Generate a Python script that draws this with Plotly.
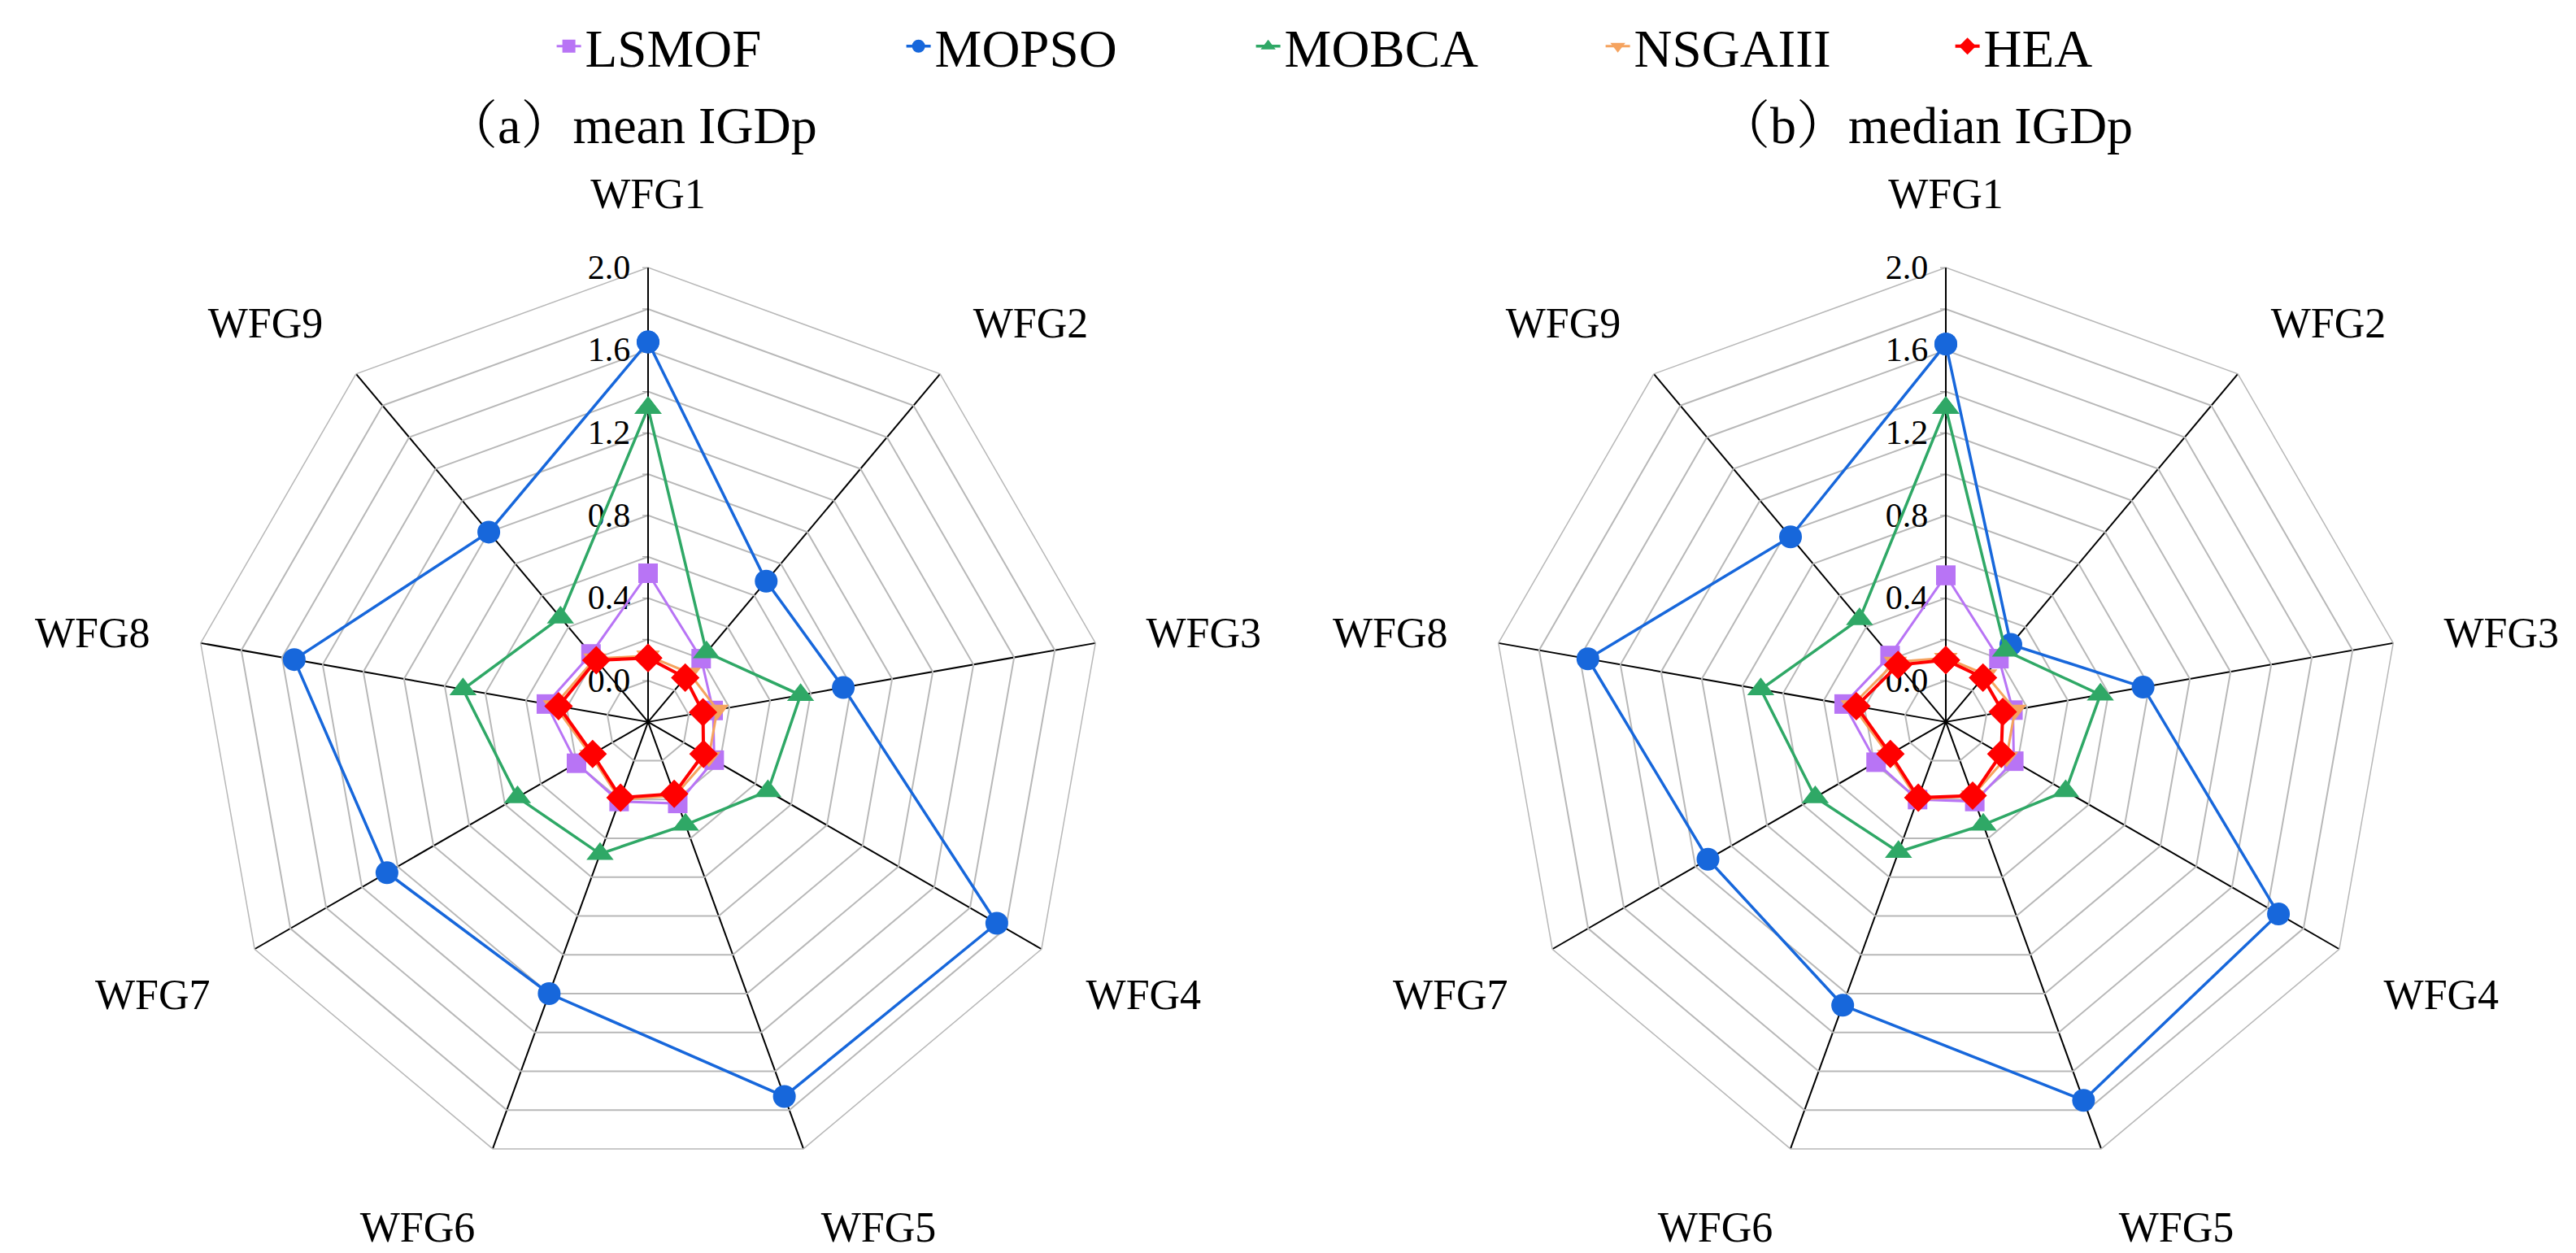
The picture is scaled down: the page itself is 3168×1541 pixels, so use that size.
import plotly.graph_objects as go

categories = ['WFG1', 'WFG2', 'WFG3', 'WFG4', 'WFG5', 'WFG6', 'WFG7', 'WFG8', 'WFG9']
algorithms = ['LSMOF', 'MOPSO', 'MOBCA', 'NSGAIII', 'HEA']

# (a) mean IGDp
mean_LSMOF = [0.52, 0.20, 0.12, 0.17, 0.22, 0.21, 0.20, 0.30, 0.23]
mean_MOPSO = [1.64, 0.69, 0.76, 1.75, 1.73, 1.20, 1.26, 1.54, 1.00]
mean_MOBCA = [1.32, 0.24, 0.55, 0.47, 0.33, 0.48, 0.53, 0.71, 0.46]
mean_NSGAIII = [0.12, 0.11, 0.14, 0.14, 0.18, 0.20, 0.12, 0.26, 0.20]
mean_HEA = [0.11, 0.08, 0.07, 0.11, 0.17, 0.19, 0.11, 0.24, 0.19]

# (b) median IGDp
median_LSMOF = [0.51, 0.20, 0.13, 0.18, 0.21, 0.20, 0.19, 0.30, 0.22]
median_MOPSO = [1.63, 0.29, 0.77, 1.66, 1.75, 1.26, 1.13, 1.56, 0.97]
median_MOBCA = [1.32, 0.25, 0.56, 0.47, 0.33, 0.47, 0.53, 0.71, 0.45]
median_NSGAIII = [0.11, 0.10, 0.14, 0.14, 0.18, 0.20, 0.12, 0.26, 0.18]
median_HEA = [0.10, 0.08, 0.08, 0.11, 0.18, 0.19, 0.11, 0.24, 0.16]

radial_tickvals = [0.0, 0.2, 0.4, 0.6, 0.8, 1.0, 1.2, 1.4, 1.6, 1.8, 2.0]
radial_ticktext = ['0.0', '', '0.4', '', '0.8', '', '1.2', '', '1.6', '', '2.0']
radial_range = [-0.2, 2.0]

titles = ['（a）mean IGDp', '（b）median IGDp']

colors = {'LSMOF': '#B874F5', 'MOPSO': '#1767DB', 'MOBCA': '#2FA866',
          'NSGAIII': '#F5A35F', 'HEA': '#FF0000'}
symbols = {'LSMOF': 'square', 'MOPSO': 'circle', 'MOBCA': 'triangle-up',
           'NSGAIII': 'triangle-down', 'HEA': 'diamond'}
msizes = {'LSMOF': 24, 'MOPSO': 28, 'MOBCA': 29, 'NSGAIII': 25, 'HEA': 27}
lwidths = {'LSMOF': 3, 'MOPSO': 3.5, 'MOBCA': 3.5, 'NSGAIII': 3, 'HEA': 4}

SERIF = 'Times New Roman, Liberation Serif, serif'
TITLEFONT = 'Times New Roman, Liberation Serif, Noto Serif CJK SC, Noto Sans CJK SC, serif'

panels = [
    ('polar', {'LSMOF': mean_LSMOF, 'MOPSO': mean_MOPSO, 'MOBCA': mean_MOBCA,
               'NSGAIII': mean_NSGAIII, 'HEA': mean_HEA}),
    ('polar2', {'LSMOF': median_LSMOF, 'MOPSO': median_MOPSO, 'MOBCA': median_MOBCA,
                'NSGAIII': median_NSGAIII, 'HEA': median_HEA}),
]

fig = go.Figure()
for pi, (sub, data) in enumerate(panels):
    for alg in algorithms:
        vals = data[alg]
        fig.add_trace(go.Scatterpolar(
            r=vals + [vals[0]],
            theta=categories + [categories[0]],
            mode='lines+markers',
            name=alg,
            subplot=sub,
            showlegend=(pi == 0),
            cliponaxis=True,
            line=dict(color=colors[alg], width=lwidths[alg]),
            marker=dict(symbol=symbols[alg], size=msizes[alg], color=colors[alg]),
        ))

W, H = 3168, 1541
R = 562
centers = [(789, 876), (2385, 876)]


def domain(cx, cy):
    return dict(x=[(cx - R) / W, (cx + R) / W],
                y=[(H - cy - R) / H, (H - cy + R) / H])


def polar_layout(cx, cy):
    return dict(
        domain=domain(cx, cy),
        bgcolor='white',
        gridshape='linear',
        radialaxis=dict(
            range=radial_range,
            angle=90,
            tickangle=90,
            side='counterclockwise',
            tickvals=radial_tickvals,
            ticktext=radial_ticktext,
            tickfont=dict(family=SERIF, size=42, color='black'),
            ticks='outside', ticklen=6, tickcolor='#999999',
            showline=True, linecolor='black', linewidth=2,
            gridcolor='#b8b8b8', gridwidth=1.5,
            layer='below traces',
        ),
        angularaxis=dict(
            type='category',
            categoryarray=categories,
            rotation=90,
            direction='clockwise',
            tickfont=dict(family=SERIF, size=52, color='black'),
            ticks='outside', ticklen=52, tickcolor='rgba(0,0,0,0)',
            showline=True, linecolor='#b8b8b8', linewidth=1.5,
            gridcolor='black', gridwidth=1.5,
            layer='below traces',
        ),
    )


fig.update_layout(
    width=W, height=H,
    paper_bgcolor='white',
    margin=dict(l=0, r=0, t=0, b=0),
    polar=polar_layout(*centers[0]),
    polar2=polar_layout(*centers[1]),
    legend=dict(
        orientation='h',
        x=0.212, xanchor='left',
        y=1 - 40 / H, yanchor='middle',
        font=dict(family=SERIF, size=65, color='black'),
        entrywidth=385, entrywidthmode='pixels',
        bgcolor='rgba(0,0,0,0)',
    ),
    annotations=[
        dict(text=titles[0], x=768 / W, y=1 - 138 / H, xref='paper', yref='paper',
             xanchor='center', yanchor='middle', showarrow=False,
             font=dict(family=TITLEFONT, size=64, color='black')),
        dict(text=titles[1], x=2360 / W, y=1 - 138 / H, xref='paper', yref='paper',
             xanchor='center', yanchor='middle', showarrow=False,
             font=dict(family=TITLEFONT, size=64, color='black')),
    ],
)

fig.write_html('out.html')
